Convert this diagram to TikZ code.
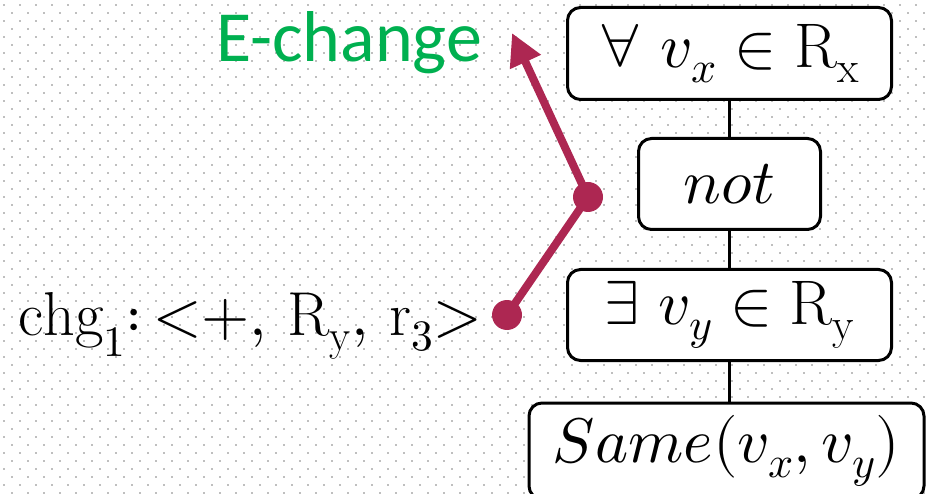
\documentclass[tikz,border=0pt]{standalone}
\usepackage{fontspec}
\usepackage{unicode-math}
\newfontfamily\calibri{Carlito}
\usetikzlibrary{arrows.meta}
\definecolor{gridgray}{RGB}{191,191,191}
\definecolor{chgred}{RGB}{173,39,82}
\definecolor{egreen}{RGB}{0,176,80}
\tikzset{
  treebox/.style={draw, line width=3pt, rounded corners=13pt, fill=white, inner sep=0pt, font=\fontsize{63}{70}\selectfont},
  treeedge/.style={line width=3pt},
  chgdot/.style={circle, fill=chgred, inner sep=0pt, minimum size=30pt},
  chgline/.style={chgred, line width=8pt},
}
\begin{document}
\begin{tikzpicture}[x=1pt, y=-1pt]
    \useasboundingbox (0,0) rectangle (926,494);
    \clip (0,0) rectangle (926,494);

    % Dotted background
    \foreach \j in {0,...,61} {
        \pgfmathsetmacro{\xoff}{4+8*mod(\j,2)}
        \foreach \i in {0,...,57}
            \fill[gridgray] ({\xoff+16*\i-1},{4.7+8*\j-1}) rectangle +(2,2);
    }

    % Query tree
    \node[treebox, minimum width=324pt, minimum height=92pt] (forall) at (729.5,53.5) {$\forall\ v_x \in \mathrm{R}_\mathrm{x}$};
    \node[treebox, minimum width=182pt, minimum height=91pt] (neg) at (729.5,184) {$not$};
    \node[treebox, minimum width=324pt, minimum height=91pt] (exists) at (729.5,315) {$\exists\ v_y \in \mathrm{R}_\mathrm{y}$};
    \node[treebox, minimum width=395pt, minimum height=96pt] (same) at (726.5,451) {$Same(v_x,v_y)$};
    \draw[treeedge] (forall) -- (neg);
    \draw[treeedge] (neg) -- (exists);
    \draw[treeedge] (exists.south) -- (exists.south |- same.north);

    % Change and its effect
    \node[anchor=base west, inner sep=0pt, font=\fontsize{62}{70}\selectfont] (chg) at (18,335) {$\mathrm{chg}_1{:}\,{<}{+},\,\mathrm{R}_\mathrm{y},\,\mathrm{r}_3{>}$};
    \node[anchor=base west, inner sep=0pt, text=egreen, font=\calibri\fontsize{72}{80}\selectfont] (echange) at (216,62) {E-change};
    \node[chgdot] (pa) at (507,315) {};
    \node[chgdot] (pb) at (588,197) {};
    \coordinate (tip) at (512,33);
    \draw[chgline] (pa.center) -- (pb.center);
    \draw[chgline, -{Triangle[length=32pt, width=32pt]}] (pb.center) -- (tip);
\end{tikzpicture}
\end{document}
